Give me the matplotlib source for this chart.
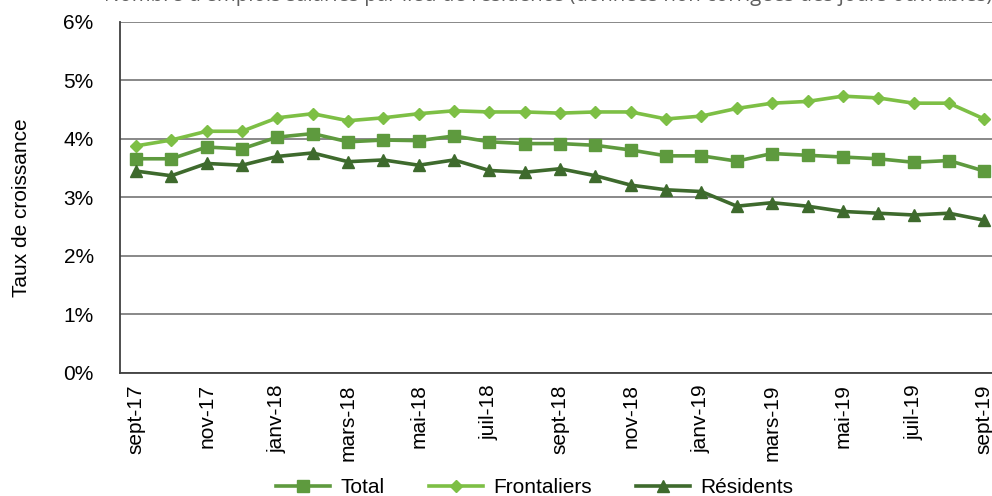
import matplotlib
matplotlib.use("Agg")
import matplotlib.pyplot as plt
from matplotlib.ticker import PercentFormatter

plt.rcParams['font.family'] = ['Liberation Sans', 'DejaVu Sans']

mois = ["sept-17", "oct-17", "nov-17", "déc-17", "janv-18", "févr-18", "mars-18",
        "avr-18", "mai-18", "juin-18", "juil-18", "août-18", "sept-18", "oct-18",
        "nov-18", "déc-18", "janv-19", "févr-19", "mars-19", "avr-19", "mai-19",
        "juin-19", "juil-19", "août-19", "sept-19"]

total = [3.66, 3.66, 3.86, 3.83, 4.03, 4.09, 3.95, 3.98, 3.97, 4.05, 3.95, 3.92,
         3.92, 3.89, 3.81, 3.71, 3.71, 3.62, 3.75, 3.72, 3.69, 3.66, 3.60, 3.63, 3.45]
frontaliers = [3.88, 3.98, 4.13, 4.13, 4.36, 4.43, 4.31, 4.36, 4.43, 4.48, 4.46, 4.46,
               4.44, 4.46, 4.46, 4.34, 4.39, 4.52, 4.61, 4.64, 4.73, 4.70, 4.61, 4.61, 4.34]
residents = [3.45, 3.37, 3.58, 3.55, 3.70, 3.76, 3.61, 3.64, 3.55, 3.64, 3.46, 3.43,
             3.49, 3.37, 3.21, 3.13, 3.10, 2.85, 2.91, 2.85, 2.76, 2.73, 2.70, 2.73, 2.61]

# titre coupé en haut de l'image d'origine
titre = ("Nombre d'emplois salariés par lieu de résidence "
         "(données non corrigées des jours ouvrables)")

fig = plt.figure(figsize=(9.92, 4.96), dpi=100)
ax = fig.add_axes([0.121, 0.248, 0.889, 0.708])

x = list(range(len(mois)))
ax.plot(x, total, color='#5e9a3e', lw=2.6, marker='s', ms=8.5, label='Total')
ax.plot(x, frontaliers, color='#7dbf45', lw=2.6, marker='D', ms=6, label='Frontaliers')
ax.plot(x, residents, color='#3e6a2d', lw=2.6, marker='^', ms=8, label='Résidents')

ax.set_xlim(-0.45, 24.5)
ax.set_ylim(0, 6)
ax.set_yticks(range(7))
ax.yaxis.set_major_formatter(PercentFormatter(decimals=0))
ax.set_xticks(x[::2])
ax.set_xticklabels(mois[::2], rotation=90)
ax.tick_params(length=0, labelsize=15)
ax.tick_params(axis='x', pad=8)
ax.tick_params(axis='y', pad=19)
ax.grid(axis='y', color='#7f7f7f', lw=1.3)
ax.set_axisbelow(True)
for s in ['top', 'right']:
    ax.spines[s].set_visible(False)
for s in ['left', 'bottom']:
    ax.spines[s].set_color('#404040')
    ax.spines[s].set_linewidth(1.3)
ax.set_ylabel('Taux de croissance', fontsize=15)
ax.yaxis.set_label_coords(-0.101, 0.47)

fig.legend(loc='lower center', bbox_to_anchor=(0.539, -0.04), ncol=3, frameon=False,
           fontsize=15, handlelength=2.6, columnspacing=2.1, handletextpad=0.5)

fig.text(0.105, 1 - 1 / 496, titre, fontsize=14.8, color='#606060', va='baseline',
         family=['Open Sans', 'DejaVu Sans'])

fig.savefig('out.png', dpi=100)
